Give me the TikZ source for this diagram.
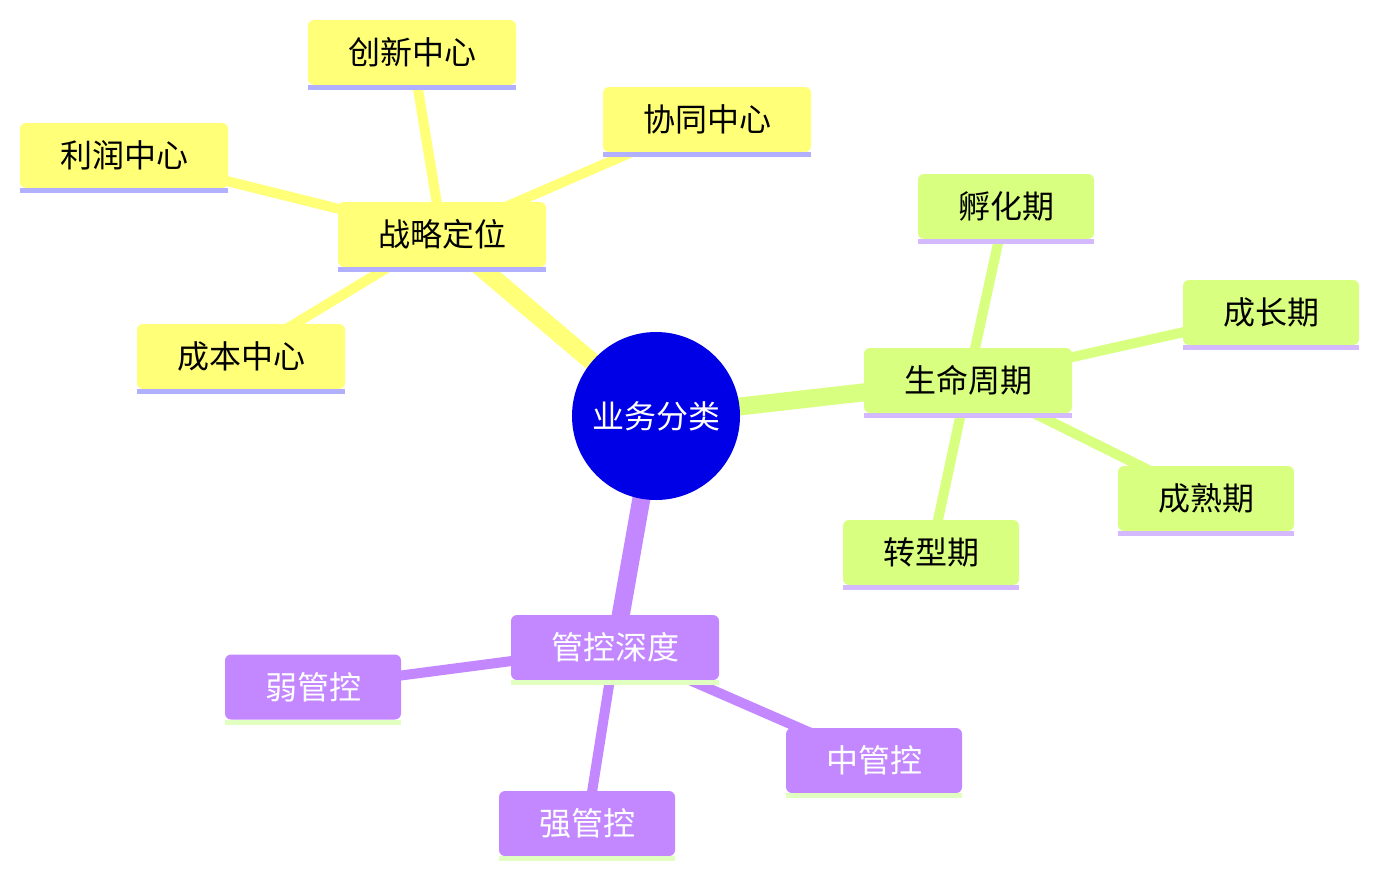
\documentclass[tikz,border=0pt]{standalone}
\usepackage{fontspec}
\newfontfamily\cjk{Noto Sans CJK SC}
\usetikzlibrary{backgrounds}
\definecolor{ylw}{RGB}{255,255,120}
\definecolor{ylwline}{RGB}{176,176,255}
\definecolor{grn}{RGB}{217,255,128}
\definecolor{grnline}{RGB}{212,185,255}
\definecolor{prp}{RGB}{195,135,255}
\definecolor{prpline}{RGB}{224,255,192}
\definecolor{rootblue}{RGB}{0,0,230}
\tikzset{
  box/.style={rectangle, rounded corners=6pt, inner sep=0pt, minimum height=65pt,
    font=\cjk\fontsize{32}{32}\selectfont},
  wide/.style={minimum width=208pt},
  narrow/.style={minimum width=176pt},
  ybox/.style={box, fill=ylw, text=black},
  gbox/.style={box, fill=grn, text=black},
  pbox/.style={box, fill=prp, text=white},
  mainedge/.style={line width=18pt},
  subedge/.style={line width=10pt},
}
\newcommand{\uline}[2]{\fill[#2] (#1.south west) rectangle ([yshift=-5pt]#1.south east);}
\newcommand{\lbl}[1]{\raisebox{-2pt}{#1}}
\begin{document}
\begin{tikzpicture}[x=1pt,y=-1pt]
\useasboundingbox (0,0) rectangle (1378,878);
% root
\node[circle, fill=rootblue, minimum size=168pt, inner sep=0pt, text=white,
  font=\cjk\fontsize{32}{32}\selectfont] (root) at (656,416) {业务分类};
% yellow branch
\node[ybox, wide] (zl) at (442,234.5) {\lbl{战略定位}};
\node[ybox, wide] (cx) at (412,52.5) {\lbl{创新中心}};
\node[ybox, wide] (xt) at (707,119.5) {\lbl{协同中心}};
\node[ybox, wide] (lr) at (124,155.5) {\lbl{利润中心}};
\node[ybox, wide] (cb) at (241,356.5) {\lbl{成本中心}};
% green branch
\node[gbox, wide] (sm) at (968,380.5) {\lbl{生命周期}};
\node[gbox, narrow] (fh) at (1006,206.5) {\lbl{孵化期}};
\node[gbox, narrow] (cz) at (1271,312.5) {\lbl{成长期}};
\node[gbox, narrow] (cs) at (1206,498.5) {\lbl{成熟期}};
\node[gbox, narrow] (zx) at (931,552.5) {\lbl{转型期}};
% purple branch
\node[pbox, wide] (gk) at (615,647.5) {\lbl{管控深度}};
\node[pbox, narrow] (rg) at (313,687) {\lbl{弱管控}};
\node[pbox, narrow] (zg) at (874,760.5) {\lbl{中管控}};
\node[pbox, narrow] (qg) at (587,823.5) {\lbl{强管控}};
% underlines
\uline{zl}{ylwline}\uline{cx}{ylwline}\uline{xt}{ylwline}\uline{lr}{ylwline}\uline{cb}{ylwline}
\uline{sm}{grnline}\uline{fh}{grnline}\uline{cz}{grnline}\uline{cs}{grnline}\uline{zx}{grnline}
\uline{gk}{prpline}\uline{rg}{prpline}\uline{zg}{prpline}\uline{qg}{prpline}
% edges
\begin{scope}[on background layer]
\draw[ylw, mainedge] (root.center) -- (zl.center);
\draw[grn, mainedge] (root.center) -- (sm.center);
\draw[prp, mainedge] (root.center) -- (gk.center);
\draw[ylw, subedge] (zl.center) -- (cx.center);
\draw[ylw, subedge] (zl.center) -- (xt.center);
\draw[ylw, subedge] (zl.center) -- (lr.center);
\draw[ylw, subedge] (zl.center) -- (cb.center);
\draw[grn, subedge] (sm.center) -- (fh.center);
\draw[grn, subedge] (sm.center) -- (cz.center);
\draw[grn, subedge] (sm.center) -- (cs.center);
\draw[grn, subedge] (sm.center) -- (zx.center);
\draw[prp, subedge] (gk.center) -- (rg.center);
\draw[prp, subedge] (gk.center) -- (zg.center);
\draw[prp, subedge] (gk.center) -- (qg.center);
\end{scope}
\end{tikzpicture}
\end{document}
